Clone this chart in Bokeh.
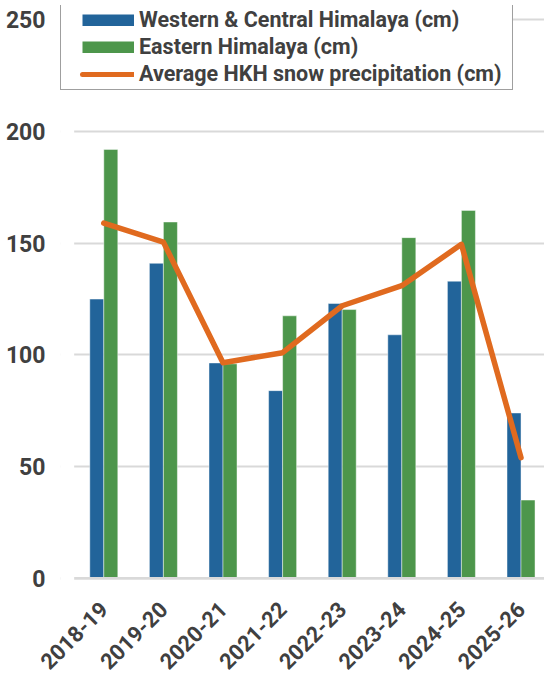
import math
from bokeh.plotting import figure
from bokeh.models import (Range1d, FixedTicker, Legend, LegendItem, ColumnDataSource,
                          BoxAnnotation, Span)
from bokeh.transform import dodge
from bokeh.embed import file_html
from bokeh.resources import INLINE

seasons = ["2018-19", "2019-20", "2020-21", "2021-22", "2022-23", "2023-24", "2024-25", "2025-26"]
western_central = [125, 141, 96.4, 84, 123, 109, 133, 74]
eastern = [192, 159.5, 96, 117.5, 120.3, 152.5, 164.7, 35]
average_hkh = [159, 150.5, 96.5, 101, 122, 131, 149.5, 54]
y_ticks = [0, 50, 100, 150, 200, 250]

BLUE = "#22649a"
GREEN = "#4d964b"
ORANGE = "#e06a1f"
TEXT = "#404040"
GRID = "#d9d9d9"
FONT = "Roboto"

xs = list(range(len(seasons)))
src = ColumnDataSource(dict(x=xs, wc=western_central, e=eastern, avg=average_hkh))

X0, X1 = -0.7265, 7.394
p = figure(frame_width=484, frame_height=575, output_backend="svg", toolbar_location=None,
           x_range=Range1d(X0, X1), y_range=Range1d(-1, 256.43),
           min_border_left=60, min_border_right=0, min_border_top=5, min_border_bottom=97)
p.outline_line_color = None
p.background_fill_color = "white"

bw = 0.235
r_wc = p.vbar(x=dodge("x", -bw / 2, range=p.x_range), top="wc", width=bw, source=src,
              fill_color=BLUE, line_color="white", line_alpha=0.45, line_width=1)
r_e = p.vbar(x=dodge("x", bw / 2, range=p.x_range), top="e", width=bw, source=src,
             fill_color=GREEN, line_color="white", line_alpha=0.45, line_width=1)
r_avg = p.line(x="x", y="avg", source=src, line_color=ORANGE, line_width=5.5,
               line_join="round", line_cap="round")

# legend swatches (legend-only renderers, a single point outside the view)
off = dict(x=[-100], y=[-100])
l_wc = p.line(x=off["x"], y=off["y"], line_color=BLUE, line_width=12, line_cap="butt",
              line_dash="52 18", line_dash_offset=52)
l_e = p.line(x=off["x"], y=off["y"], line_color=GREEN, line_width=12, line_cap="butt",
             line_dash="52 18", line_dash_offset=52)
l_avg = p.line(x=off["x"], y=off["y"], line_color=ORANGE, line_width=5, line_cap="round",
               line_dash="52 18", line_dash_offset=52)

# axes
p.yaxis.ticker = FixedTicker(ticks=y_ticks)
p.yaxis.axis_line_color = None
p.yaxis.major_tick_line_color = None
p.yaxis.minor_tick_line_color = None
p.yaxis.major_label_standoff = 9
p.yaxis.major_label_text_font = FONT
p.yaxis.major_label_text_font_style = "bold"
p.yaxis.major_label_text_font_size = "23px"
p.yaxis.major_label_text_color = TEXT

p.xaxis.ticker = FixedTicker(ticks=xs)
p.xaxis.major_label_overrides = {i: s for i, s in enumerate(seasons)}
p.xaxis.axis_line_color = None
p.xaxis.major_tick_line_color = None
p.xaxis.minor_tick_line_color = None
p.xaxis.major_label_orientation = math.pi / 4
p.xaxis.major_label_standoff = 19
p.xaxis.major_label_text_font = FONT
p.xaxis.major_label_text_font_style = "bold"
p.xaxis.major_label_text_font_size = "22px"
p.xaxis.major_label_text_color = TEXT

p.xgrid.grid_line_color = None
p.ygrid.grid_line_color = GRID
p.ygrid.grid_line_width = 2

# baseline at zero
p.add_layout(Span(location=0, dimension="width", line_color=GRID, line_width=2.5))
# blank strip at the left of the plotting area (gridlines start at the first category)
p.add_layout(BoxAnnotation(left=X0 - 1, right=-0.497, bottom=-5, top=300,
                           fill_color="white", fill_alpha=1.0, line_alpha=0))

legend = Legend(items=[
    LegendItem(label="Western & Central Himalaya (cm)", renderers=[l_wc]),
    LegendItem(label="Eastern Himalaya (cm)", renderers=[l_e]),
    LegendItem(label="Average HKH snow precipitation (cm)", renderers=[l_avg]),
], location=(0, 490), padding=3, margin=0, spacing=2,
    glyph_width=70, glyph_height=12, label_height=25, label_standoff=5, label_width=370,
    label_text_font=FONT, label_text_font_style="bold", label_text_font_size="21.5px",
    label_text_color=TEXT, border_line_color=TEXT, border_line_width=1.6,
    background_fill_color="white", background_fill_alpha=1.0)
p.add_layout(legend)

open("out.html", "w").write(file_html(p, INLINE))
